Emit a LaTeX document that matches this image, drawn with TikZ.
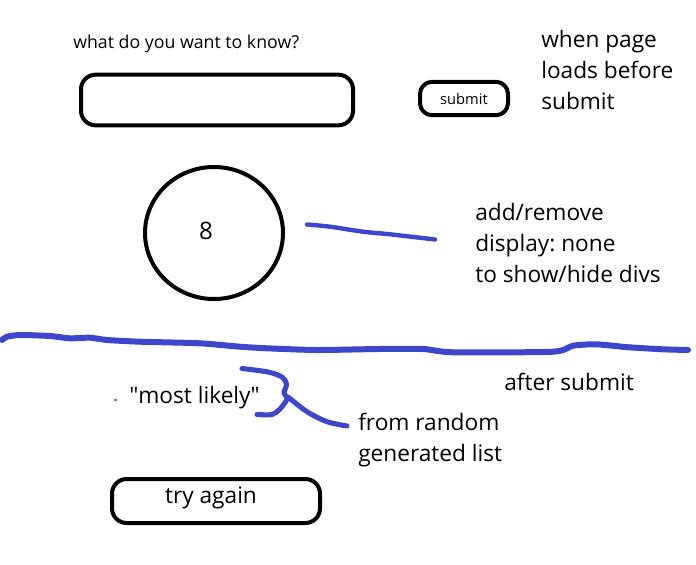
\documentclass[tikz,border=0pt]{standalone}
\usepackage{fontspec}
\setmainfont{Open Sans}
\usepackage{xcolor}
\usepackage{tikz}
\frenchspacing

\definecolor{penblue}{RGB}{62,71,204}

\tikzset{
  box/.style={draw=black, line width=3pt, rounded corners=11pt, inner sep=0pt},
  pen/.style={color=penblue, line width=4pt, line cap=round, line join=round},
  bigtext/.style={inner sep=0pt, align=left, font=\fontsize{17}{23.25}\selectfont},
}

\begin{document}
\begin{tikzpicture}[x=0.75pt,y=0.75pt,yscale=-1,xscale=1]
\useasboundingbox (0,0) rectangle (696,564);

%Rounded Rect: question field
\node [box, minimum width=204pt, minimum height=38pt] (field) at (217,100) {};
%Rounded Rect: submit button
\node [box, rounded corners=9pt, minimum width=66pt, minimum height=25pt] (submitbtn) at (464,98.5) {};
%Ellipse: answer
\draw [line width=3pt] (214,233) ellipse [x radius=69, y radius=66];
%Rounded Rect: try again button
\node [box, minimum width=156pt, minimum height=33pt] (retry) at (216,501) {};

% Text Node
\node [anchor=base west, inner sep=0pt, font=\fontsize{13.3}{15}\selectfont] (question) at (73,48) {what do you want to know?};
% Text Node
\node [inner sep=0pt, font=\fontsize{11}{13}\selectfont] (submitlbl) at (submitbtn) {submit};
% Text Node
\node [anchor=base west, bigtext] (beforenote) at (541,109) {when page\\loads before\\submit};
% Text Node
\node [inner sep=0pt, font=\fontsize{18}{20}\selectfont] (answer) at (206,231) {8};
% Text Node
\node [anchor=base west, bigtext] (divnote) at (475,282) {add/remove\\display: none\\to show/hide divs};
% Text Node
\node [anchor=base west, bigtext] (afternote) at (504,390) {after submit};
% Text Node
\node [anchor=base west, bigtext] (likely) at (129,403) {\textquotedbl most likely\textquotedbl};
% Text Node
\node [anchor=base west, bigtext] (listnote) at (358,461) {from random\\generated list};
% Text Node
\node [bigtext] (retrylbl) at (211,498) {try again};

%Stray mark
\draw [color=gray, line width=0.8pt] (114,400) -- (117,400);

%Pen stroke: to the note on divs
\draw [pen, line width=3.3pt] plot [smooth] coordinates {(307,224.5) (330,226.7) (363,231.7) (390,234.3) (435,239.5)};
%Pen stroke: before / after divider
\draw [pen, line width=4.5pt] plot [smooth, tension=0.4] coordinates {(2,340) (7,336.7) (20,335) (50,336) (70,338.3) (90,337.7) (107,340) (140,341.7) (200,343.3) (240,346.7) (267,348.3) (317,350) (379,349) (423,349) (453,352.3) (553,351.7) (573,345.7) (596,344.3) (629,347.3) (663,349.3) (688,350)};
%Pen stroke: brace
\draw [pen, line width=3.8pt] plot [smooth, tension=0.5] coordinates {(242,368.5) (268,372) (282,377) (286.5,384) (284,393) (287,399) (280,409) (272,414.5) (257,414.5)};
%Pen stroke: brace to list note
\draw [pen, line width=3.8pt] plot [smooth, tension=0.5] coordinates {(288,397) (307,411.7) (327,421.7) (347,426)};

\end{tikzpicture}
\end{document}
